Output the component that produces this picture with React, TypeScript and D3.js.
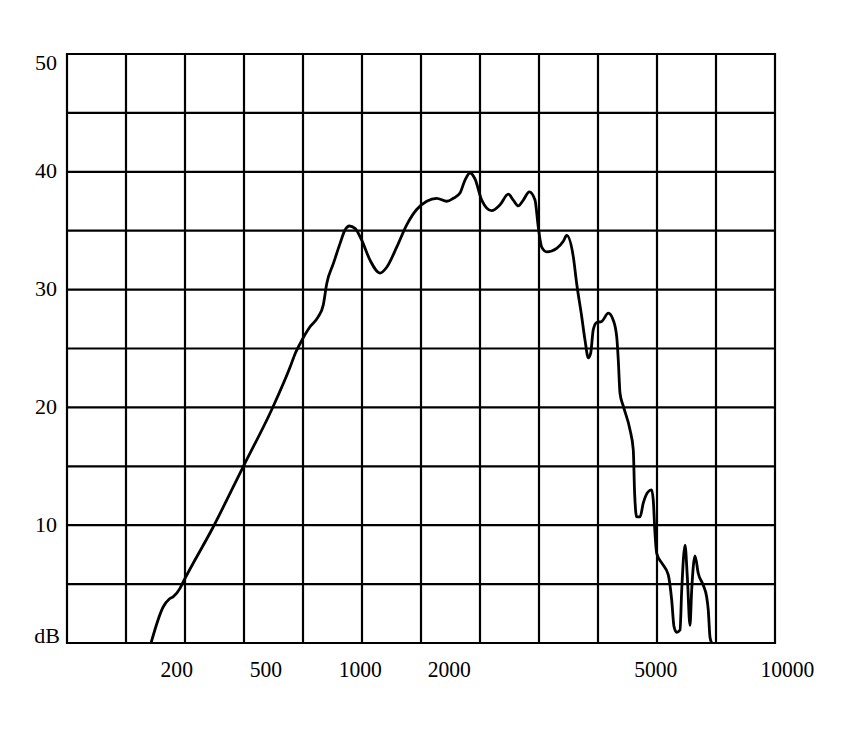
import { useRef, useEffect } from "react";
import * as d3 from "d3";

// position along the (non-uniform) frequency axis, in grid columns from the left edge
const bandPos = [
  1.424, 1.632, 1.734, 1.802, 1.915, 1.971, 2.48, 3.0, 3.469, 3.78, 3.87, 3.949,
  4.119, 4.259, 4.344, 4.402, 4.514, 4.627, 4.712, 4.785, 4.881, 4.995, 5.136,
  5.305, 5.419, 5.588, 5.758, 5.927, 6.097, 6.266, 6.436, 6.547, 6.661, 6.746,
  6.831, 6.915, 7.029, 7.198, 7.339, 7.48, 7.564, 7.649, 7.734, 7.836, 7.932,
  7.988, 8.046, 8.131, 8.3, 8.412, 8.469, 8.581, 8.639, 8.724, 8.78, 8.836,
  8.876, 8.92, 8.978, 9.063, 9.175, 9.259, 9.317, 9.344, 9.373, 9.429, 9.542,
  9.598, 9.62, 9.656, 9.712, 9.768, 9.853, 9.91, 9.937, 9.966, 9.995, 10.08,
  10.19, 10.249, 10.288, 10.334, 10.39, 10.419, 10.475, 10.514, 10.559, 10.588,
  10.644, 10.7, 10.785, 10.842, 10.869, 10.898, 10.927,
];

// level in dB at each position
const levelDb = [
  0, 3.08, 3.74, 3.93, 4.64, 5.2, 9.87, 15.1, 19.8, 23.4, 24.6, 25.4,
  26.85, 27.7, 28.7, 30.5, 32.2, 33.9, 35.06, 35.4, 35.2, 34.2, 32.5,
  31.4, 31.9, 33.6, 35.5, 36.8, 37.5, 37.75, 37.5, 37.75, 38.2, 39.3,
  39.9, 39.4, 37.6, 36.7, 37.2, 38.1, 37.6, 37.1, 37.6, 38.3, 37.6,
  35.3, 33.6, 33.2, 33.5, 34.1, 34.6, 32.8, 30.5, 27.7, 25.7, 24.2,
  24.6, 26.6, 27.2, 27.3, 28.0, 27.4, 26.0, 24.0, 21.2, 20.1, 18.1,
  16.4, 12.8, 10.7, 10.7, 11.9, 12.85, 13.0, 12.1, 9.3, 7.6, 6.8,
  5.8, 3.65, 1.4, 0.9, 1.1, 4.5, 8.3, 5.6, 1.5, 4.5,
  7.4, 5.9, 4.9, 3.9, 2.8, 0.5, 0,
];

const freqLabels = ["200", "500", "1000", "2000", "5000", "10000"];
const freqLabelPos = [1.86, 3.37, 4.97, 6.48, 9.98, 12.21];

const dbTickValues = [0, 10, 20, 30, 40, 50];
const dbTickLabels = ["dB", "10", "20", "30", "40", "50"];

export default function App() {
  const svgRef = useRef<SVGSVGElement>(null);

  useEffect(() => {
    if (!svgRef.current) return;
    const svg = d3.select(svgRef.current);
    svg.selectAll("*").remove();

    const width = 857;
    const height = 752;
    const left = 67;
    const right = 775;
    const top = 54;
    const bottom = 643;

    svg.attr("width", width).attr("height", height);
    svg.append("rect").attr("width", width).attr("height", height).attr("fill", "#fff");

    const x = d3.scaleLinear().domain([0, 12]).range([left, right]);
    const y = d3.scaleLinear().domain([0, 50]).range([bottom, top]);

    const grid = svg.append("g").attr("stroke", "#000").attr("stroke-width", 2.2);
    d3.range(0, 13).forEach((i) => {
      grid.append("line")
        .attr("x1", x(i)).attr("x2", x(i))
        .attr("y1", y(0) + 1).attr("y2", y(50) - 1);
    });
    d3.range(0, 55, 5).forEach((v) => {
      grid.append("line")
        .attr("x1", x(0) - 1).attr("x2", x(12) + 1)
        .attr("y1", y(v)).attr("y2", y(v));
    });

    const pts: [number, number][] = bandPos.map((p, i) => [p, levelDb[i]]);
    const line = d3
      .line<[number, number]>()
      .x((d) => x(d[0]))
      .y((d) => y(d[1]))
      .curve(d3.curveMonotoneX);

    svg.append("path")
      .datum(pts)
      .attr("fill", "none")
      .attr("stroke", "#000")
      .attr("stroke-width", 2.8)
      .attr("stroke-linejoin", "round")
      .attr("d", line);

    const font = "'Liberation Serif', 'Times New Roman', serif";

    // the scanned labels are a little condensed along x; mimic with a scale
    svg.append("g")
      .selectAll("text")
      .data(freqLabels)
      .join("text")
      .attr("transform", (_, i) => `translate(${x(freqLabelPos[i])},677) scale(0.9,1)`)
      .attr("text-anchor", "middle")
      .attr("font-family", font)
      .attr("font-size", 24)
      .attr("fill", "#000")
      .text((d) => d);

    svg.append("g")
      .selectAll("text")
      .data(dbTickLabels)
      .join("text")
      .attr("transform", (_, i) => {
        const v = dbTickValues[i];
        const tx = i === 0 ? 60 : 57;
        let ty = y(v) + 6.6;
        if (v === 50) ty = y(v) + 16;
        if (v === 0) ty = y(v);
        return `translate(${tx},${ty}) scale(1.1,1)`;
      })
      .attr("text-anchor", "end")
      .attr("font-family", font)
      .attr("font-size", 20)
      .attr("fill", "#000")
      .text((d) => d);
  }, []);

  return (
    <svg
      ref={svgRef}
      style={{ position: "absolute", left: 0, top: 0, display: "block" }}
    />
  );
}
